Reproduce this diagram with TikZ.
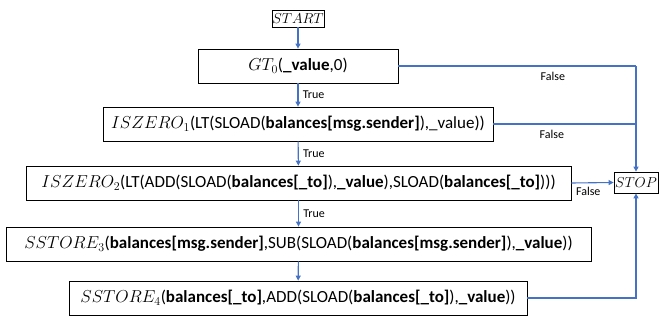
\documentclass[tikz,border=0pt]{standalone}
\usepackage{fontspec}
\setmainfont{Carlito}
\usetikzlibrary{arrows.meta}
\definecolor{flowblue}{RGB}{68,114,196}
\begin{document}
\begin{tikzpicture}[x=1pt,y=-1pt]
% Define styles
\tikzset{
    opbox/.style={rectangle, draw=black, line width=0.8pt, minimum height=34pt, inner sep=0pt, font=\fontsize{17}{19}\selectfont},
    endbox/.style={rectangle, draw=black, line width=0.8pt, inner sep=0pt, font=\fontsize{13.5}{15}\selectfont},
    flow/.style={draw=flowblue, line width=1.1pt},
    tip/.style={-{Triangle[length=5pt,width=5pt]}},
    lbl/.style={font=\fontsize{12}{14}\selectfont, text=black}
}
\useasboundingbox (0,0) rectangle (661,323);

% Terminal nodes
\node[endbox, minimum width=52pt, minimum height=17pt] (start) at (298,18.5) {$START$};
\node[endbox, minimum width=44pt, minimum height=21pt] (stop) at (636,182.5) {$STOP$};

% Operation boxes
\node[opbox, minimum width=200pt] (gt) at (298,66) {$GT_0$(\textbf{\_value},0)};
\node[opbox, minimum width=390pt] (isz1) at (298,124) {$ISZERO_1$(LT(SLOAD(\textbf{balances[msg.sender]}),\_value))};
\node[opbox, minimum width=545pt] (isz2) at (298.5,183) {$ISZERO_2$(LT(ADD(SLOAD(\textbf{balances[\_to]}),\textbf{\_value}),SLOAD(\textbf{balances[\_to]})))};
\node[opbox, minimum width=585pt] (ss3) at (298.5,244) {$SSTORE_3$(\textbf{balances[msg.sender]},SUB(SLOAD(\textbf{balances[msg.sender]}),\textbf{\_value}))};
\node[opbox, minimum width=458pt] (ss4) at (298,298) {$SSTORE_4$(\textbf{balances[\_to]},ADD(SLOAD(\textbf{balances[\_to]}),\textbf{\_value}))};

% Rail on the right
\coordinate (rail1) at (stop.north |- gt.east);
\coordinate (rail2) at (stop.north |- isz1.east);

% True branches
\draw[flow, tip] (start) -- (gt);
\draw[flow, tip] (gt) -- node[lbl, right=1pt] {True} (isz1);
\draw[flow, tip] (isz1) -- node[lbl, right=1pt] {True} (isz2);
\draw[flow, tip] (isz2) -- node[lbl, right=1pt] {True} (ss3);
\draw[flow, tip] (ss3) -- (ss4);

% False branches
\draw[flow] (gt.east) -- node[lbl, below=2pt, pos=0.65] {False} (rail1);
\draw[flow, tip] (rail1) -- (stop.north);
\draw[flow] (isz1.east) -- node[lbl, below=2pt, pos=0.41] {False} (rail2);
\draw[flow, tip] (isz2.east) -- node[lbl, below=0pt, pos=0.4] {False} (stop.west);
\draw[flow, tip] (ss4.east) -| (stop.south);

\end{tikzpicture}
\end{document}
